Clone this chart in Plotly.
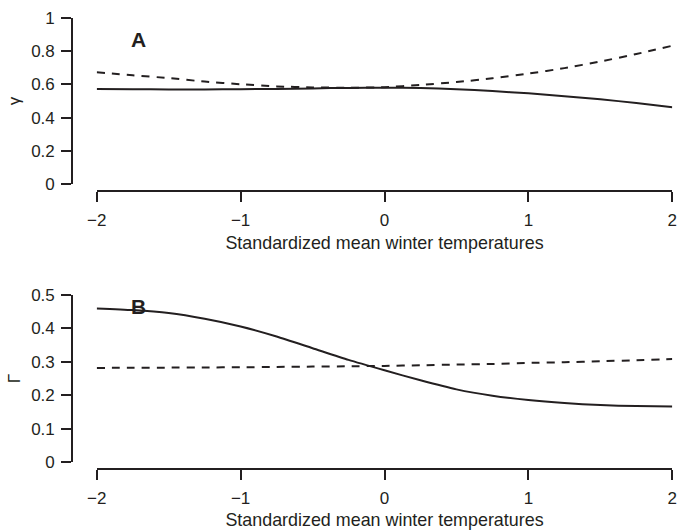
import plotly.graph_objects as go

# ---- data ----
x_vals = [-2, -1.75, -1.5, -1.25, -1, -0.75, -0.5, -0.25, 0,
          0.25, 0.5, 0.75, 1, 1.25, 1.5, 1.75, 2]

gamma_solid = [0.572, 0.571, 0.570, 0.570, 0.571, 0.573, 0.576, 0.579, 0.580,
               0.578, 0.571, 0.560, 0.546, 0.529, 0.510, 0.488, 0.462]
gamma_dashed = [0.673, 0.655, 0.638, 0.617, 0.601, 0.588, 0.582, 0.580, 0.583,
                0.597, 0.614, 0.637, 0.665, 0.698, 0.738, 0.783, 0.833]

Gamma_solid = [0.460, 0.455, 0.446, 0.429, 0.406, 0.376, 0.341, 0.306, 0.275,
               0.245, 0.218, 0.199, 0.186, 0.177, 0.171, 0.168, 0.167]
Gamma_dashed = [0.282, 0.2825, 0.283, 0.2835, 0.284, 0.285, 0.286, 0.287, 0.288,
                0.290, 0.292, 0.294, 0.297, 0.299, 0.302, 0.305, 0.309]

x_ticks = [-2, -1, 0, 1, 2]
top_y_ticks = [0, 0.2, 0.4, 0.6, 0.8, 1]
top_y_labels = ["0", "0.2", "0.4", "0.6", "0.8", "1"]
bot_y_ticks = [0, 0.1, 0.2, 0.3, 0.4, 0.5]
bot_y_labels = ["0", "0.1", "0.2", "0.3", "0.4", "0.5"]
x_title = "Standardized mean winter temperatures"
top_y_title = "γ"
bot_y_title = "Γ"
panel_labels = ["A", "B"]

# ---- style ----
INK = "#231F20"
FONT = "Liberation Sans, Arial, Helvetica, sans-serif"
W, H = 678, 530

def px(v):
    return v / W

def py(v):
    return 1 - v / H

fig = go.Figure()

line_solid = dict(color=INK, width=2, shape="spline", smoothing=0.6)
line_dash = dict(color=INK, width=2, dash="8px,7px", shape="spline", smoothing=0.6)

fig.add_trace(go.Scatter(x=x_vals, y=gamma_solid, mode="lines", line=line_solid,
                         xaxis="x", yaxis="y", showlegend=False))
fig.add_trace(go.Scatter(x=x_vals, y=gamma_dashed, mode="lines", line=line_dash,
                         xaxis="x", yaxis="y", showlegend=False))
fig.add_trace(go.Scatter(x=x_vals, y=Gamma_solid, mode="lines", line=line_solid,
                         xaxis="x2", yaxis="y2", showlegend=False))
fig.add_trace(go.Scatter(x=x_vals, y=Gamma_dashed, mode="lines", line=line_dash,
                         xaxis="x2", yaxis="y2", showlegend=False))

xdom = [px(96.7), px(672.3)]

common_x = dict(
    range=[-2, 2], domain=xdom, anchor="free",
    tickmode="array", tickvals=x_ticks,
    showline=True, linecolor=INK, linewidth=1.6,
    ticks="outside", ticklen=10, tickwidth=1.6, tickcolor=INK,
    showgrid=False, zeroline=False, automargin=False,
    tickfont=dict(family=FONT, size=17, color=INK),
    title=dict(text=x_title, font=dict(family=FONT, size=17.9, color=INK), standoff=6),
    ticklabelstandoff=4,
)
common_y = dict(
    anchor="free", position=px(72),
    showline=True, linecolor=INK, linewidth=1.6,
    ticks="outside", ticklen=10, tickwidth=1.6, tickcolor=INK,
    showgrid=False, zeroline=False, automargin=False,
    tickfont=dict(family=FONT, size=17, color=INK),
    tickmode="array", ticklabelstandoff=3,
)

fig.update_layout(
    width=W, height=H,
    margin=dict(l=0, r=0, t=0, b=0),
    paper_bgcolor="white", plot_bgcolor="white",
    font=dict(family=FONT, color=INK),
    xaxis=dict(common_x, position=py(191)),
    xaxis2=dict(common_x, position=py(469)),
    yaxis=dict(common_y, range=[0, 1], domain=[py(184), py(18)],
               tickvals=top_y_ticks, ticktext=top_y_labels,
               title=dict(text=top_y_title, font=dict(family=FONT, size=17, color=INK), standoff=5)),
    yaxis2=dict(common_y, range=[0, 0.5], domain=[py(462.3), py(295)],
                tickvals=bot_y_ticks, ticktext=bot_y_labels,
                title=dict(text=bot_y_title, font=dict(family=FONT, size=17, color=INK), standoff=5)),
    annotations=[
        dict(text="<b>%s</b>" % panel_labels[0], x=px(138), y=py(39.5), xref="paper", yref="paper",
             showarrow=False, font=dict(family=FONT, size=21, color=INK), xanchor="center", yanchor="middle"),
        dict(text="<b>%s</b>" % panel_labels[1], x=px(138), y=py(306.5), xref="paper", yref="paper",
             showarrow=False, font=dict(family=FONT, size=21, color=INK), xanchor="center", yanchor="middle"),
    ],
)

fig.write_html(
    "out.html",
    config={"displayModeBar": False},
    post_script="document.body.style.margin='0';document.body.style.overflow='hidden';",
)
